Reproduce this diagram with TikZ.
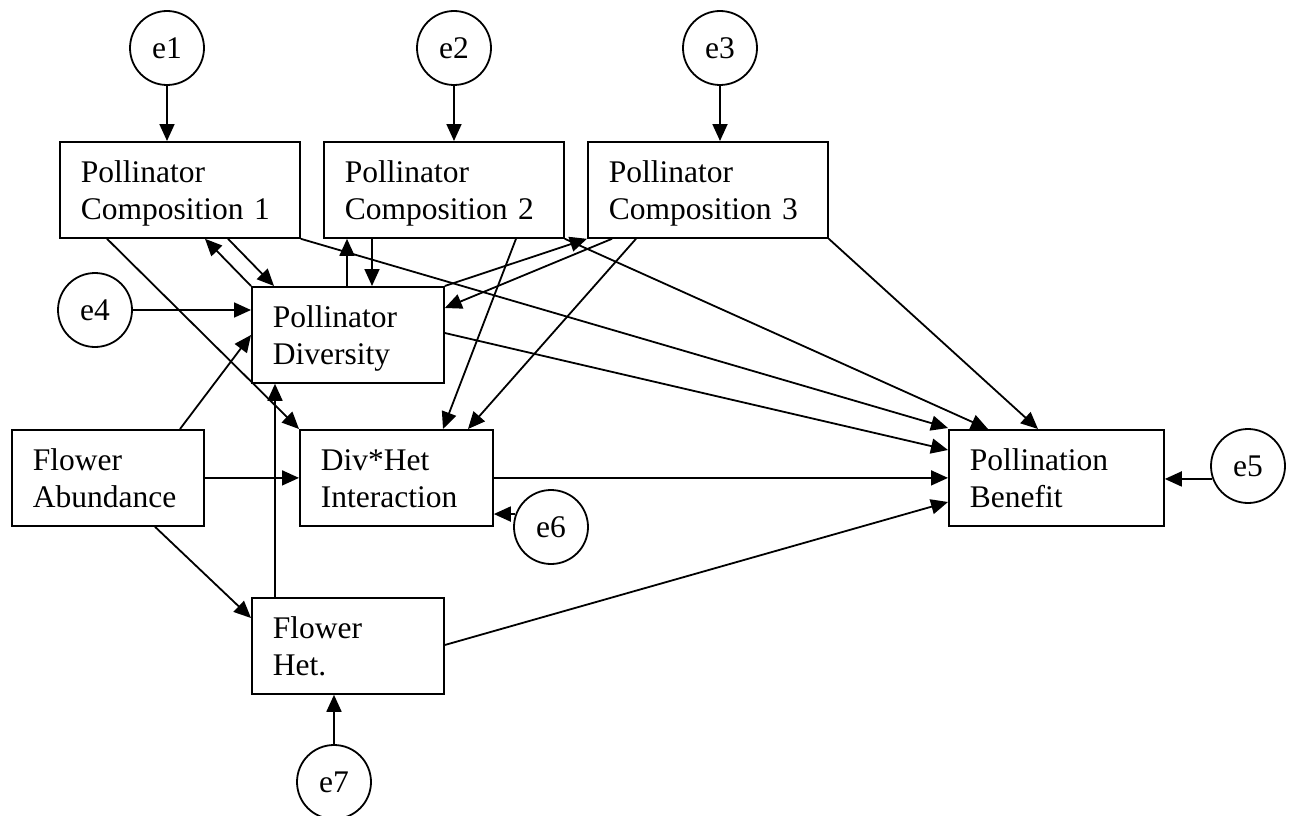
\documentclass[tikz,border=0pt]{standalone}
\usepackage{fontspec}
\setmainfont{Liberation Serif}
\usetikzlibrary{arrows.meta,calc}

\begin{document}
\begin{tikzpicture}[x=1pt,y=-1pt,
  every node/.style={font=\fontsize{31.5}{36.5}\selectfont},
  box/.style={draw, line width=1.8pt, rectangle, anchor=north west,
    align=left, inner xsep=21pt, inner ysep=0pt,
    text height=24pt, text depth=38pt, minimum height=96pt},
  errterm/.style={draw, circle, line width=1.8pt, minimum size=74pt, inner sep=0pt},
  path/.style={line width=1.8pt, -{Triangle[length=17pt,width=15pt]}}
]
\useasboundingbox (0,0) rectangle (1291,816);

% observed variables
\node[box, text width=198pt, minimum width=240pt] (pc1) at (59,141) {Pollinator\\Composition 1};
\node[box, text width=198pt, minimum width=240pt] (pc2) at (323,141) {Pollinator\\Composition 2};
\node[box, text width=198pt, minimum width=240pt] (pc3) at (587,141) {Pollinator\\Composition 3};
\node[box, text width=150pt, minimum width=192pt] (pd) at (251,286) {Pollinator\\Diversity};
\node[box, text width=150pt, minimum width=192pt] (fa) at (11,429) {Flower\\Abundance};
\node[box, text width=151pt, minimum width=193pt] (dh) at (299,429) {Div*Het\\Interaction};
\node[box, text width=173pt, minimum width=215pt] (pb) at (948,429) {Pollination\\Benefit};
\node[box, text width=150pt, minimum width=192pt] (fh) at (251,597) {Flower\\Het.};

% error terms
\node[errterm] (e1) at (167,48) {e1};
\node[errterm] (e2) at (454,48) {e2};
\node[errterm] (e3) at (720,48) {e3};
\node[errterm] (e4) at (95,310) {e4};
\node[errterm] (e5) at (1248,466) {e5};
\node[errterm] (e6) at (551,527) {e6};
\node[errterm] (e7) at (334,782) {e7};

% error paths
\draw[path] (e1.south) -- (e1 |- pc1.north);
\draw[path] (e2.south) -- (e2 |- pc2.north);
\draw[path] (e3.south) -- (e3 |- pc3.north);
\draw[path] (e4.east) -- (e4 -| pd.west);
\draw[path] (e5.200) -- (e5.200 -| pb.east);
\draw[path] (e6.160) -- (e6.160 -| dh.east);
\draw[path] (e7.north) -- (e7 |- fh.south);

% composition <-> diversity
\draw[path] (pd.north west) -- ($(pc1.south west)+(146,0)$);
\draw[path] ($(pc1.south west)+(169,0)$) -- ($(pd.north west)+(23,0)$);
\draw[path] ($(pd.north west)+(96,0)$) -- ($(pc2.south west)+(24,0)$);
\draw[path] ($(pc2.south west)+(49,0)$) -- ($(pd.north west)+(121,0)$);
\draw[path] (pd.north east) -- (pc3.south west);
\draw[path] ($(pc3.south west)+(25,0)$) -- ($(pd.north east)+(0,22)$);

% paths into the interaction term
\draw[path] ($(pc1.south west)+(48,0)$) -- (dh.north west);
\draw[path] ($(pc2.south west)+(193,0)$) -- ($(dh.north west)+(144,0)$);
\draw[path] ($(pc3.south west)+(49,0)$) -- ($(dh.north west)+(169,0)$);
\draw[path] (fa.east) -- (fa.east -| dh.west);

% paths into pollination benefit
\draw[path] (pc1.south east) -- ($(pb.north west)+(0,-1)$);
\draw[path] (pc2.south east) -- ($(pb.north west)+(40,0)$);
\draw[path] (pc3.south east) -- ($(pb.north west)+(90,0)$);
\draw[path] ($(pd.north east)+(0,47)$) -- ($(pb.north west)+(0,21)$);
\draw[path] (dh.east) -- (dh.east -| pb.west);
\draw[path] ($(fh.north east)+(0,48)$) -- ($(pb.north west)+(0,73)$);

% flower abundance and heterogeneity
\draw[path] ($(fa.north west)+(169,0)$) -- ($(pd.north west)+(0,49)$);
\draw[path] ($(fa.south west)+(144,0)$) -- ($(fh.north west)+(0,21)$);
\draw[path] ($(fh.north west)+(24,0)$) -- ($(pd.south west)+(24,0)$);
\end{tikzpicture}
\end{document}
